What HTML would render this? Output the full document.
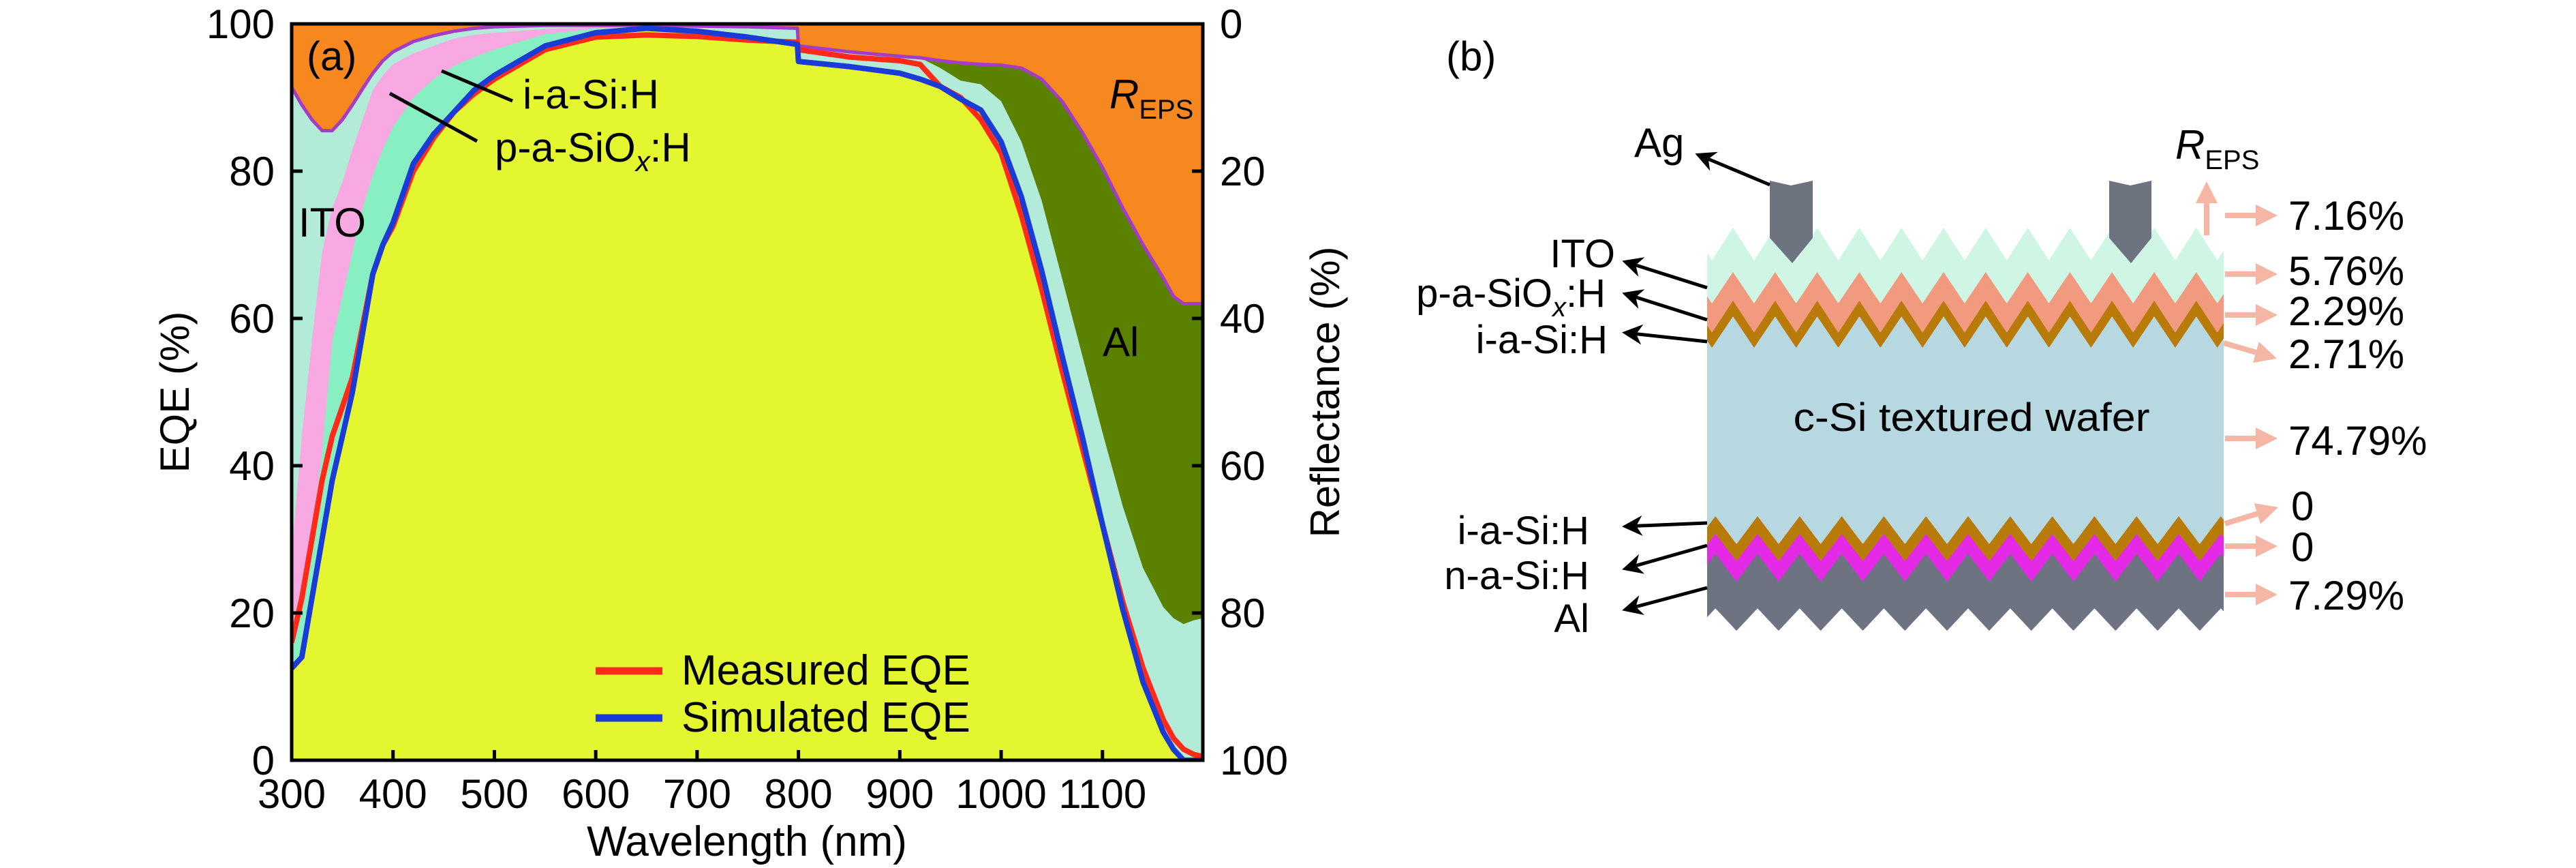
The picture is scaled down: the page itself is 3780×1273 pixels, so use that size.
<!DOCTYPE html>
<html><head><meta charset="utf-8"><style>
html,body{margin:0;padding:0;background:#fff;}
svg{display:block;font-family:"Liberation Sans",sans-serif;}
</style></head><body>
<svg id="fig" width="3780" height="1273" viewBox="0 0 3780 1273" xmlns="http://www.w3.org/2000/svg">
<defs>
<marker id="ah" markerWidth="6" markerHeight="6" refX="5" refY="3" orient="auto" markerUnits="strokeWidth"><path d="M0,0 L6,3 L0,6 L1.8,3 Z" fill="#000"/></marker>
<marker id="ahp" markerWidth="4" markerHeight="4" refX="1" refY="2" orient="auto" markerUnits="strokeWidth"><path d="M0,0 L4,2 L0,4 Z" fill="#f5b6a6"/></marker>
<clipPath id="plotclip"><rect x="428" y="35" width="1337" height="1080"/></clipPath>
</defs>
<g id="chartA">
  <g id="fills" clip-path="url(#plotclip)"></g>
  <g id="lines" clip-path="url(#plotclip)"></g>
  <rect x="428" y="35" width="1337" height="1080" fill="none" stroke="#000" stroke-width="5"/>
  <g id="ticks"></g>
  <text x="450" y="103" font-size="60">(a)</text>
  <text x="438" y="347" font-size="60">ITO</text>
  <line x1="648" y1="104" x2="752" y2="148" stroke="#000" stroke-width="5"/>
  <line x1="572" y1="137" x2="700" y2="207" stroke="#000" stroke-width="5"/>
  <text x="767" y="159" font-size="60">i-a-Si:H</text>
  <text x="726" y="237" font-size="60">p-a-SiO<tspan font-style="italic" font-size="42" dy="14">x</tspan><tspan dy="-14">:H</tspan></text>
  <text x="1628" y="159" font-size="60"><tspan font-style="italic">R</tspan><tspan font-size="40" dy="15">EPS</tspan></text>
  <text x="1618" y="522" font-size="60">Al</text>
  <line x1="874" y1="984" x2="972" y2="984" stroke="#ff2a1a" stroke-width="11"/>
  <text x="1000" y="1004" font-size="62">Measured EQE</text>
  <line x1="874" y1="1053" x2="972" y2="1053" stroke="#1a3bd6" stroke-width="11"/>
  <text x="1000" y="1073" font-size="62">Simulated EQE</text>
  <text x="1096" y="1255" font-size="62" text-anchor="middle">Wavelength (nm)</text>
  <text transform="translate(277,575) rotate(-90)" font-size="60" text-anchor="middle">EQE (%)</text>
  <text transform="translate(1965,575) rotate(-90)" font-size="60" text-anchor="middle">Reflectance (%)</text>
</g>

<g id="panelB">
  <text x="2122" y="103" font-size="60">(b)</text>
  <g id="layers"></g>
  <polygon points="2597,265 2628,272 2660,265 2660,349 2630,386 2597,349" fill="#6e7380"/>
  <polygon points="3095,265 3126,272 3157,265 3157,349 3127,386 3095,349" fill="#6e7380"/>
  <text x="2893" y="632" font-size="58" text-anchor="middle" textLength="523" lengthAdjust="spacingAndGlyphs">c-Si textured wafer</text>
  <text x="2398" y="230" font-size="60">Ag</text>
  <line x1="2597" y1="271" x2="2492" y2="227" stroke="#000" stroke-width="5" marker-end="url(#ah)"/>
  <g font-size="58" text-anchor="end">
    <text x="2370" y="392">ITO</text>
    <text x="2356" y="450">p-a-SiO<tspan font-style="italic" font-size="40" dy="14">x</tspan><tspan dy="-14">:H</tspan></text>
    <text x="2359" y="518">i-a-Si:H</text>
    <text x="2332" y="798">i-a-Si:H</text>
    <text x="2332" y="864">n-a-Si:H</text>
    <text x="2332" y="927">Al</text>
  </g>
  <g stroke="#000" stroke-width="5" marker-end="url(#ah)">
    <line x1="2505" y1="422" x2="2385" y2="384"/>
    <line x1="2505" y1="469" x2="2385" y2="431"/>
    <line x1="2505" y1="501" x2="2385" y2="488"/>
    <line x1="2505" y1="767" x2="2385" y2="772"/>
    <line x1="2505" y1="800" x2="2385" y2="834"/>
    <line x1="2505" y1="862" x2="2385" y2="894"/>
  </g>
  <g stroke="#f5b6a6" stroke-width="8" marker-end="url(#ahp)">
    <line x1="3238" y1="345" x2="3238" y2="290"/>
    <line x1="3265" y1="316" x2="3318" y2="316"/>
    <line x1="3265" y1="402" x2="3318" y2="402"/>
    <line x1="3265" y1="462" x2="3318" y2="462"/>
    <line x1="3263" y1="503" x2="3318" y2="519"/>
    <line x1="3265" y1="643" x2="3318" y2="643"/>
    <line x1="3265" y1="768" x2="3320" y2="751"/>
    <line x1="3265" y1="801" x2="3318" y2="801"/>
    <line x1="3265" y1="872" x2="3318" y2="872"/>
  </g>
  <text x="3192" y="233" font-size="60"><tspan font-style="italic">R</tspan><tspan font-size="40" dy="15">EPS</tspan></text>
  <g font-size="60">
    <text x="3358" y="337">7.16%</text>
    <text x="3358" y="418">5.76%</text>
    <text x="3358" y="477">2.29%</text>
    <text x="3358" y="540">2.71%</text>
    <text x="3358" y="667">74.79%</text>
    <text x="3362" y="763">0</text>
    <text x="3362" y="823">0</text>
    <text x="3358" y="894">7.29%</text>
  </g>
</g>
</svg>
<script>
// ---- chart data ----
const wavelength = [300,310,320,330,340,350,360,370,380,390,400,420,440,460,480,500,550,600,650,700,750,799,800,850,900,920,940,960,980,1000,1020,1040,1060,1080,1100,1120,1140,1160,1170,1180,1190,1199];
const eqeSimulated = [12.5,14,22,30,38,44,50,58,66,70,73,81,85,88,91,93,97,98.8,99.4,99,98.2,97.2,94.9,94.2,93.3,92.5,91.5,89.8,88.3,84,76.5,66.5,55,44,32,20.5,10.6,3.8,1.5,0,0,0];
const eqeMeasured = [16,22,30,38,44,48,52,59,66,70,72.5,80,84.5,88,90.5,92.5,96.5,98.2,98.5,98.3,97.8,97.5,96.5,95.5,95,94.5,91.5,90,87,82.5,74,64,53,42.5,32,21.5,12.5,5.5,3,1.5,0.8,0.5];
const absIaSi = [4.5,6,8,12,19,19,19,17,13.5,13,13,9,7.5,6.3,4.5,3.5,1.6,0.6,0.2,0.3,0.4,0.4,0,0,0,0,0,0,0,0,0,0,0,0,0,0,0,0,0,0,0,0];
const absPaSiOx = [11,24,27,27,18,15.5,14,12,11.5,10,8.5,6,4.5,3.7,3,2.3,0.7,0.2,0,0,0,0,0,0,0,0,0,0,0,0,0,0,0,0,0,0,0,0,0,0,0,0];
const absITO = [63.4,45,30,16.5,10.5,8.5,6,4.2,2.3,2,1.7,1.6,1.4,1,0.9,0.8,0.5,0.2,0.2,0.4,1,1.8,2.1,2.0,2.3,2.9,2.5,2.5,3.5,5.5,7.5,9.5,10.5,11,12.5,14,15.5,17,17.8,18.5,19,19.3];
const reflectance = [8.6,11,13,14.5,14.5,13,11,8.8,6.7,5,3.8,2.4,1.6,1,0.6,0.4,0.2,0.2,0.2,0.3,0.4,0.6,3,3.8,4.4,4.6,5,5.3,5.5,5.6,6,7.5,10.5,14.7,19.5,25,30,34.5,37,38,38,38];
const xTicks = [300,400,500,600,700,800,900,1000,1100];
const yTicks = [0,20,40,60,80,100];

const NS = 'http://www.w3.org/2000/svg';
const X0=428, X1=1765, Y0=1115, Y1=35;
function xs(w){ return X0 + (w-300)*(X1-X0)/(1199-300); }
function ys(v){ return Y0 - v*(Y0-Y1)/100; }
function mk(tag, attrs, parent){ const e=document.createElementNS(NS,tag); for(const k in attrs) e.setAttribute(k,attrs[k]); parent.appendChild(e); return e; }

const fills = document.getElementById('fills');
const lines = document.getElementById('lines');
const ticks = document.getElementById('ticks');

function areaPath(tops){
  let d = 'M'+xs(wavelength[0])+','+ys(0);
  tops.forEach((t,i)=>{ d += ' L'+xs(wavelength[i]).toFixed(1)+','+ys(t).toFixed(1); });
  d += ' L'+xs(wavelength[wavelength.length-1])+','+ys(0)+' Z';
  return d;
}
function linePath(vals){
  return vals.map((v,i)=>(i?'L':'M')+xs(wavelength[i]).toFixed(1)+','+ys(v).toFixed(1)).join(' ');
}
const topMint = eqeSimulated.map((v,i)=>v+absIaSi[i]);
const topPink = topMint.map((v,i)=>v+absPaSiOx[i]);
const topIto = topPink.map((v,i)=>v+absITO[i]);
const topAll = reflectance.map(r=>100-r);

let bg = mk('rect',{x:X0,y:Y1,width:X1-X0,height:Y0-Y1,fill:'#f7871f'},fills);


const layersA = [
  [topAll,'#5a8200','al-absorption-area'],
  [topIto,'#b2ecd9','ito-absorption-area'],
  [topPink,'#f8a9e2','p-a-siox-absorption-area'],
  [topMint,'#88efc2','i-a-si-absorption-area'],
  [eqeSimulated,'#e4f630','c-si-absorption-area']
];
layersA.forEach(L=>{
  const p = mk('path',{d:areaPath(L[0]),fill:L[1]},fills);
  
  
});
const rl = mk('path',{d:linePath(topAll),fill:'none',stroke:'#a43cc4','stroke-width':5,'stroke-linejoin':'round'},lines);


const ml = mk('path',{d:linePath(eqeMeasured),fill:'none',stroke:'#ff2a1a','stroke-width':8,'stroke-linejoin':'round'},lines);


const sl = mk('path',{d:linePath(eqeSimulated),fill:'none',stroke:'#1a3bd6','stroke-width':8,'stroke-linejoin':'round'},lines);



xTicks.forEach(t=>{
  const x = xs(t);
  const tk = mk('line',{x1:x,y1:Y0,x2:x,y2:Y0-15,stroke:'#000','stroke-width':5},ticks);
  
  
  const tx = mk('text',{x:x,y:1185,'font-size':60,'text-anchor':'middle'},ticks);
  tx.textContent = t;
  
  
});
yTicks.forEach(t=>{
  const y = ys(t);
  const tk = mk('line',{x1:X0,y1:y,x2:X0+16,y2:y,stroke:'#000','stroke-width':5},ticks);
  
  
  const tr = mk('line',{x1:X1,y1:y,x2:X1-16,y2:y,stroke:'#000','stroke-width':5},ticks);
  
  
  const tx = mk('text',{x:403,y:y+21,'font-size':60,'text-anchor':'end'},ticks);
  tx.textContent = t;
  
  
  const rx = mk('text',{x:1790,y:y+21,'font-size':60},ticks);
  rx.textContent = 100-t;
  
  
});

// ---- schematic layers ----
const BL=2505, BR=3263, P=61.8;
function zigPts(yPeak, amp, x0){
  const pts=[];
  for(let x=BL; x<=BR+0.01; x+=1){
    let t=((x-x0)/P)%1; if(t<0) t+=1;
    const d=Math.min(t,1-t)*2;
    pts.push([x, yPeak+amp*d]);
  }
  return pts;
}
function zigPoly(top, bottomPts){
  let pts = top.map(p=>p[0].toFixed(1)+','+p[1].toFixed(1));
  const b = bottomPts.slice().reverse().map(p=>p[0].toFixed(1)+','+p[1].toFixed(1));
  return pts.concat(b).join(' ');
}
function flat(y){ return [[BL,y],[BR,y]]; }
const lay = document.getElementById('layers');
const TP=2543, BP=2579;
const grayBottom = zigPts(892,33,BP);
const schem = [
  [zigPts(334,48,TP), flat(600), '#cff5e4','ito-layer'],
  [zigPts(399,46,TP), flat(600), '#f29a80','p-a-siox-layer'],
  [zigPts(441,47,TP), flat(600), '#b87a08','i-a-si-top-layer'],
  [zigPts(464,46,TP), flat(850), '#b8d8e1','c-si-wafer'],
  [zigPts(757,41,BP), grayBottom, '#b87a08','i-a-si-bottom-layer'],
  [zigPts(783,40,BP), grayBottom, '#e42ae6','n-a-si-layer'],
  [zigPts(812,41,BP), grayBottom, '#6e7382','al-layer']
];
schem.forEach(s=>{
  const pg = mk('polygon',{points:zigPoly(s[0],s[1]),fill:s[2]},lay);
  
  
});
</script>
</body></html>
